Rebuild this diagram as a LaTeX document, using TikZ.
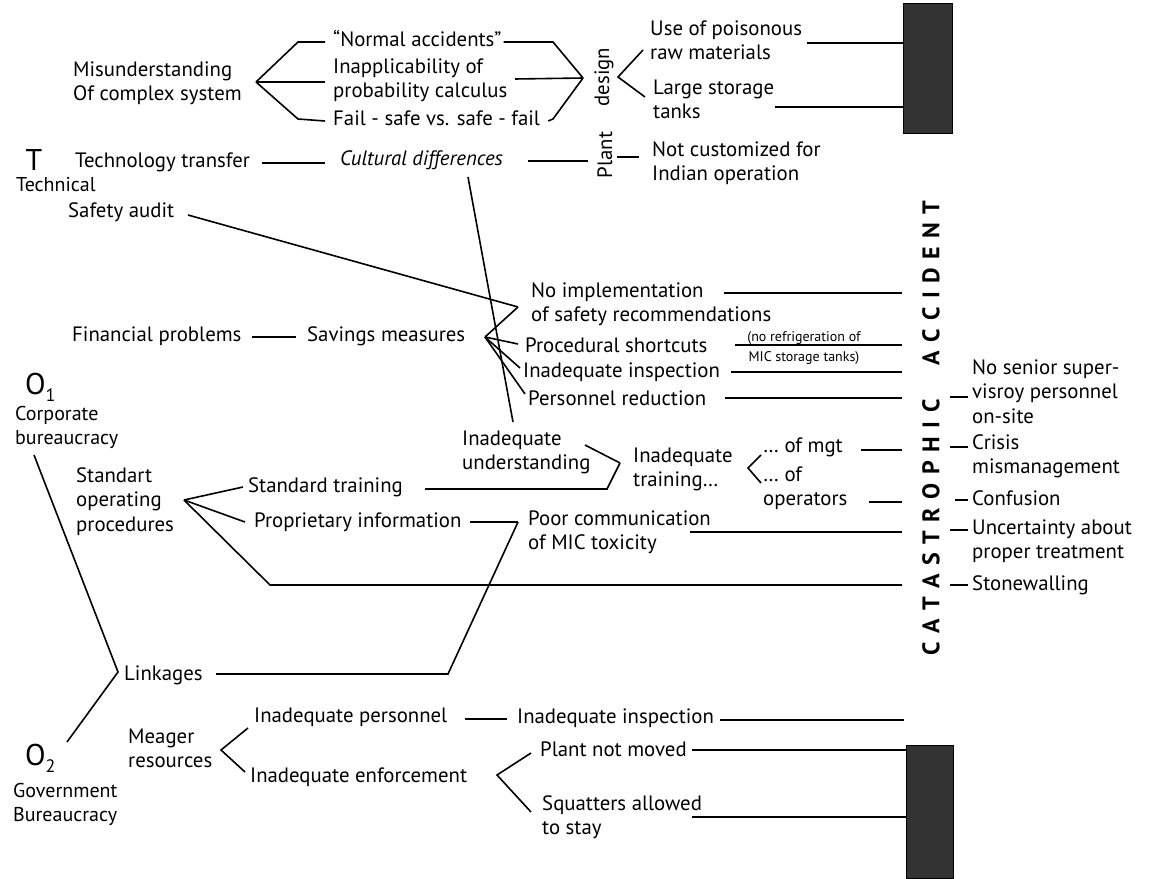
\documentclass[tikz,border=0pt]{standalone}
\usepackage{fontspec}
\setmainfont{PT Sans}
\newcommand\myfs{\fontsize{20.8}{24.5}\selectfont}
\newcommand\mysfs{\fontsize{20}{24.5}\selectfont}
\newcommand\mysmall{\fontsize{14}{20}\selectfont}
\newcommand\mybig{\fontsize{30}{30}\selectfont}
\newcommand\mysub{\fontsize{18}{18}\selectfont}
\newcommand\mycat{\fontsize{24}{24}\bfseries\selectfont}
\begin{document}
\begin{tikzpicture}[x=1pt,y=-1pt,
  lbl/.style={anchor=west, inner sep=0pt, align=left, font=\myfs, execute at begin node=\strut, execute at end node=\strut},
  slbl/.style={lbl, font=\mysfs},
  rot/.style={rotate=90, inner sep=0pt, font=\myfs},
  ln/.style={line width=1.6pt},
  dbox/.style={draw=black, line width=1pt, fill=black!80, inner sep=0pt}]
\useasboundingbox (0,0) rectangle (1153,878);

% ---------- top block ----------
\node[lbl] (mis) at (73,85) {Misunderstanding\\Of complex system};
\node[lbl] (norm) at (333,42) {“Normal accidents”};
\node[lbl] (inapp) at (333,82) {Inapplicability of\\probability calculus};
\node[lbl] (fail) at (333,121) {Fail - safe vs. safe - fail};
\node[rot] (design) at (604,77) {design};
\node[lbl] (use) at (650,44) {Use of poisonous\\raw materials};
\node[lbl] (large) at (653,103) {Large storage\\tanks};
\node[dbox, minimum width=49pt, minimum height=130pt] (box1) at (927.5,68) {};

\coordinate (v1) at (256,82);
\draw[ln] (v1) -- (298,42) -- ([xshift=-8pt]norm.west);
\draw[ln] (v1) -- (325,82);
\draw[ln] (v1) -- (298,119) -- ([xshift=-8pt]fail.west);
\coordinate (v2) at (583,78);
\draw[ln] ([xshift=2pt]norm.east) -- (553,42) -- (v2);
\draw[ln] (515,79) -- (v2);
\draw[ln] ([xshift=8pt]fail.east) -- (553,119) -- (v2);
\coordinate (v3) at (618,77);
\draw[ln] (643,50) -- (v3) -- (645,97);
\draw[ln] (807,43) -- (box1.west |- 0,43);
\draw[ln] (775,107) -- (box1.west |- 0,107);

% ---------- technology row ----------
\node[inner sep=0pt, font=\mybig] (T) at (34,160) {T};
\node[slbl] (tech) at (16,187) {Technical};
\node[lbl] (techtr) at (75,163) {Technology transfer};
\node[lbl, font=\myfs\itshape] (cult) at (340,161) {Cultural differences};
\node[rot] (plant) at (605,155) {Plant};
\node[lbl] (notcust) at (652,165) {Not customized for\\Indian operation};
\node[lbl] (safety) at (68,213) {Safety audit};

\draw[ln] (262,163) -- (325,163);
\draw[ln] (528,161) -- (588,161);
\draw[ln] (617,157) -- (639,157);

% ---------- savings block ----------
\node[lbl] (fin) at (72,337) {Financial problems};
\node[lbl] (sav) at (307,337) {Savings measures};
\node[lbl] (noimpl) at (531,306) {No implementation\\of safety recommendations};
\node[lbl] (proc) at (525,348) {Procedural shortcuts};
\node[inner sep=0pt, align=center, font=\mysmall] (refr) at (804,348) {(no refrigeration of\\MIC storage tanks)};
\node[lbl] (ininsp) at (523,373) {Inadequate inspection};
\node[lbl] (pers) at (528,401) {Personnel reduction};

\coordinate (vN) at (518,307);
\coordinate (vS) at (485,337);
\draw[ln] (252,337) -- (296,337);
\draw[ln] (188,215) -- (vN);
\draw[ln] (vS) -- (vN);
\draw[ln] (vS) -- (518,344);
\draw[ln] (vS) -- (520,368);
\draw[ln] (vS) -- (525,394);
\draw[ln] (468,177) -- (513,422);

% ---------- catastrophic accident ----------
\node[rotate=90, inner sep=0pt, font=\mycat] (cat) at (931,428)
  {\makebox[455pt][s]{C\hfil A\hfil T\hfil A\hfil S\hfil T\hfil R\hfil O\hfil P\hfil H\hfil I\hfil C\hfil\hfil\hfil\hfil A\hfil C\hfil C\hfil I\hfil D\hfil E\hfil N\hfil T}};
\coordinate (catL) at (902,0);
\coordinate (catR) at (950,0);

\draw[ln] (724,293) -- (catL |- 0,293);
\draw[ln] (735,345) -- (catL |- 0,345);
\draw[ln] (731,372) -- (catL |- 0,372);
\draw[ln] (725,398) -- (catL |- 0,398);

\node[lbl] (senior) at (972,395) {No senior super-\\visroy personnel\\on-site};
\node[lbl] (crisis) at (972,458) {Crisis\\mismanagement};
\node[lbl] (conf) at (972,501) {Confusion};
\node[lbl] (uncert) at (972,543) {Uncertainty about\\proper treatment};
\node[lbl] (stone) at (972,586) {Stonewalling};
\draw[ln] (catR |- 0,397) -- (968,397);
\draw[ln] (catR |- 0,447) -- (968,447);
\draw[ln] (955,500) -- (968,500);
\draw[ln] (catR |- 0,530) -- (968,530);
\draw[ln] (catR |- 0,585) -- (968,585);

% ---------- training block ----------
\node[lbl] (underst) at (462,454) {Inadequate\\understanding};
\node[lbl] (intrain) at (633,471) {Inadequate\\training…};
\node[lbl] (mgt) at (763,448) {… of mgt};
\node[lbl] (ofop) at (763,490) {… of\\operators};
\coordinate (vU) at (620,463);
\draw[ln] (585,445) -- (vU);
\draw[ln] (425,489) -- (607,489) -- (vU);
\coordinate (vT) at (748,468);
\draw[ln] (761,455) -- (vT) -- (761,483);
\draw[ln] (861,450) -- (catL |- 0,450);
\draw[ln] (869,502) -- (catL |- 0,502);

\node[lbl] (O1) at (25,387) {\mybig O\raisebox{-7pt}{\mysub 1}};
\node[slbl] (corp) at (15,429) {Corporate\\bureaucracy};
\node[lbl] (sop) at (76,503) {Standart\\operating\\procedures};
\node[lbl] (stdtr) at (248,488) {Standard training};
\node[lbl] (prop) at (254,523) {Proprietary information};
\node[lbl] (poor) at (528,534) {Poor communication\\of MIC toxicity};
\coordinate (vP) at (184,500);
\draw[ln] (vP) -- (243,487);
\draw[ln] (vP) -- (245,522);
\draw[ln] (vP) -- (270,585) -- (catL |- 0,585);
\draw[ln] (690,532) -- (catL |- 0,532);
\coordinate (vC) at (518,522);
\draw[ln] (470,522) -- (vC);
\draw[ln] (216,674) -- (448,674) -- (vC);

% ---------- government block ----------
\node[lbl] (link) at (124,676) {Linkages};
\coordinate (vL) at (118,672);
\draw[ln] (34,455) -- (vL) -- (67,742);
\node[lbl] (O2) at (25,758) {\mybig O\raisebox{-7pt}{\mysub 2}};
\node[slbl] (gov) at (13,806) {Government\\Bureaucracy};
\node[lbl] (meager) at (128,752) {Meager\\resources};
\node[lbl] (inpers) at (254,718) {Inadequate personnel};
\node[lbl] (ininsp2) at (517,719) {Inadequate inspection};
\node[lbl] (inenf) at (250,778) {Inadequate enforcement};
\node[lbl] (moved) at (540,752) {Plant not moved};
\node[lbl] (squat) at (542,819) {Squatters allowed\\to stay};
\node[dbox, minimum width=47pt, minimum height=133pt] (box2) at (929.5,811.5) {};
\coordinate (vM) at (221,750);
\draw[ln] (248,728) -- (vM) -- (245,772);
\draw[ln] (465,719) -- (507,719);
\draw[ln] (720,720) -- (904,720);
\coordinate (vE) at (497,775);
\draw[ln] (531,753) -- (vE) -- (531,812);
\draw[ln] (692,750) -- (box2.west |- 0,750);
\draw[ln] (692,817) -- (box2.west |- 0,817);
\end{tikzpicture}
\end{document}
